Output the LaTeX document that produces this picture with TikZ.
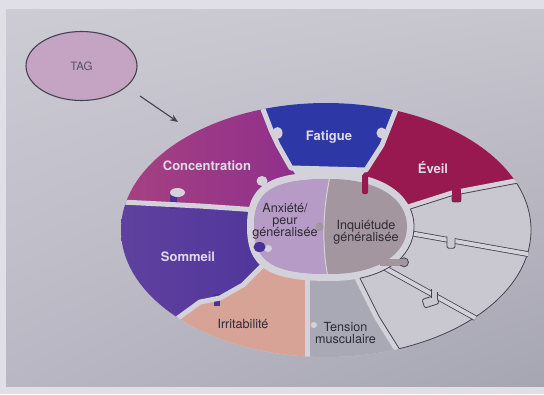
\documentclass[tikz,border=0pt]{standalone}
\usepackage{fontspec}
\setmainfont{TeX Gyre Heros}
\usetikzlibrary{arrows.meta,shapes.geometric,shadings}

\definecolor{margincol}{HTML}{DFDFE5}
\definecolor{pageUL}{HTML}{CDCCD5}
\definecolor{pageUR}{HTML}{C7C6CF}
\definecolor{pageLL}{HTML}{B8B7C3}
\definecolor{pageLR}{HTML}{A6A5B2}
\definecolor{gapcol}{HTML}{D3D2DA}
\definecolor{inkcol}{HTML}{46424E}
\definecolor{tagcol}{HTML}{C4A3C3}
\definecolor{tagtextcol}{HTML}{5A5562}
\definecolor{concL}{HTML}{A8437F}
\definecolor{concR}{HTML}{8C2C8E}
\definecolor{fatiguecol}{HTML}{2D38A6}
\definecolor{eveilcol}{HTML}{97194F}
\definecolor{sommL}{HTML}{61429F}
\definecolor{sommR}{HTML}{4A3199}
\definecolor{irritcol}{HTML}{D7A397}
\definecolor{tensioncol}{HTML}{A9A9B6}
\definecolor{anxietecol}{HTML}{B59BC5}
\definecolor{inquietcol}{HTML}{A3969F}
\definecolor{blankcol}{HTML}{C9C8D1}
\definecolor{lighttextcol}{HTML}{DED8E8}
\definecolor{darktextcol}{HTML}{2F2B35}

\begin{document}
\begin{tikzpicture}[x=1pt,y=-1pt,
  gapline/.style={draw=gapcol,line width=5pt,line join=round,line cap=round},
  rimline/.style={draw=inkcol,line width=0.8pt,line join=round},
  seamline/.style={draw=inkcol,line width=0.8pt,double=gapcol,double distance=4pt,line join=round},
  boldlabel/.style={font=\fontsize{13}{13}\selectfont\bfseries,text=lighttextcol,inner sep=0pt},
  darklabel/.style={font=\fontsize{12.6}{12}\selectfont,text=darktextcol,align=center,inner sep=0pt},
]
\useasboundingbox (0,0) rectangle (544,394);

% page and its shaded paper
\fill[margincol] (0,0) rectangle (544,394);
\shade[upper left=pageUL, upper right=pageUR, lower left=pageLL, lower right=pageLR]
  (6,9) rectangle (544,386);

% source ellipse and arrow
\node[ellipse, draw=inkcol, line width=1.1pt, fill=tagcol, minimum width=111pt,
      minimum height=69pt, inner sep=0pt, text=tagtextcol,
      font=\fontsize{11.5}{12}\selectfont] (tag) at (81.5,66) {TAG};
\coordinate (arrowtail) at (140,96);
\coordinate (arrowtip) at (178,122);
\draw[inkcol, line width=1.1pt, -{Stealth[length=8pt,width=6.5pt]}] (arrowtail) -- (arrowtip);

% outer ring of puzzle pieces
\fill[gapcol] (326,230) ellipse [x radius=205, y radius=127];
\begin{scope}
  \clip (326,230) ellipse [x radius=205, y radius=127];
  % Concentration
  \shade[left color=concL, right color=concR]
    (330,227) -- (291,168) -- (278,145) -- (271,130) -- (261,104) -- (250,70)
    -- (100,70) -- (100,201) -- (122,202) -- (200,206) -- (258,210) -- cycle;
  % Fatigue
  \fill[fatiguecol] (291,168) -- (278,145) -- (271,130) -- (261,104) -- (250,70)
    -- (410,70) -- (395,112) -- (382,145) -- (366,170) -- cycle;
  % Eveil
  \fill[eveilcol] (330,227) -- (366,170) -- (382,145) -- (395,112) -- (410,70)
    -- (580,70) -- (580,175) -- (515,181) -- (452,193) -- (405,208) -- cycle;
  % blank pieces
  \fill[blankcol] (330,227) -- (405,208) -- (452,193) -- (515,181) -- (580,175)
    -- (580,390) -- (420,390) -- (397,350) -- (377,318) -- (357,278) -- cycle;
  % Tension musculaire
  \fill[tensioncol] (330,227) -- (357,278) -- (377,318) -- (397,350) -- (420,390)
    -- (307,390) -- (307,276) -- cycle;
  % Irritabilite
  \fill[irritcol] (330,227) -- (307,276) -- (307,390) -- (130,390) -- (130,363)
    -- (160,335) -- (178,318) -- (200,302) -- (220,298) -- (243,285) -- (262,266) -- cycle;
  % Sommeil
  \shade[left color=sommL, right color=sommR]
    (330,227) -- (262,266) -- (243,285) -- (220,298) -- (200,302) -- (178,318)
    -- (160,335) -- (130,363) -- (100,363) -- (100,201) -- (122,202) -- (200,206)
    -- (258,210) -- cycle;

  % tabs reaching across the seams
  \fill[sommR] (170,195) rectangle (177,209);
  \fill[gapcol] (177.5,192.5) ellipse [x radius=7.5, y radius=4.5];
  \fill[sommR] (214,294) rectangle (220,306);
  \fill[irritcol] (302,322) rectangle (312,328);

  % gaps between coloured pieces
  \draw[gapline] (258,210) -- (200,206) -- (122,202) -- (100,201);
  \draw[gapline] (262,266) -- (243,285) -- (220,298) -- (200,302) -- (178,318)
    -- (160,335) -- (130,363);
  \draw[gapline] (307,276) -- (307,390);
  \draw[gapline] (250,70) -- (261,104) -- (271,130) -- (278,145) -- (291,168)
    -- (366,170) -- (382,145) -- (395,112) -- (410,70);
  \draw[gapline] (349,262) -- (357,278) -- (377,318) -- (397,350) -- (420,390);
  \draw[gapline] (395,211) -- (405,208) -- (452,193) -- (515,181) -- (580,175);
  \fill[gapcol] (277.5,133) ellipse [x radius=5, y radius=6];
  \fill[gapcol] (381.5,133) ellipse [x radius=5, y radius=5.5];
  \fill[gapcol] (262,181) ellipse [x radius=5.5, y radius=5];
  \fill[gapcol] (314,325) circle [radius=3];

  % outlines of the blank pieces beside coloured neighbours
  \draw[rimline] (351.3,260.8) -- (359.3,276.8) -- (379.3,316.8) -- (399.3,348.8) -- (422.3,388.8);
  \draw[rimline] (395.6,216.5) -- (405.6,210.5) -- (452.6,195.5) -- (515.6,183.5) -- (580.6,177.5);
\end{scope}

% outer rim of the blank pieces
\begin{scope}
  \clip (351.3,260.8) -- (359.3,276.8) -- (379.3,316.8) -- (399.3,348.8) -- (422.3,388.8)
    -- (580,388.8) -- (580,177.5) -- (515.6,183.5) -- (452.6,195.5) -- (405.6,210.5)
    -- (395.6,216.5) -- (330,227) -- cycle;
  \draw[rimline] (326,230) ellipse [x radius=205, y radius=127];
\end{scope}

% seams between the blank pieces
\draw[seamline] (395,230.4) -- (528.1,254.1);
\draw[seamline] (385,268) -- (475.3,318.1);

% tab of the upper blank piece
\fill[blankcol] (447.4,236.2) rectangle (454.6,247.9);
\draw[rimline, rounded corners=1.5] (447,236.6) -- (447,248.3) -- (455,248.3) -- (455,238.3);
% tab of the middle blank piece
\draw[rimline, fill=blankcol, rounded corners=2, rotate around={18:(430.5,301.5)}]
  (423,297) rectangle (438,306);
\fill[blankcol] (431.4,287.8) rectangle (436.6,299);
\draw[rimline] (431,289) -- (431,297.5);
\draw[rimline] (437,292.2) -- (437,297.5);
% tab of Eveil into the upper blank piece
\fill[eveilcol] (452,189) rectangle (461,202);
\draw[rimline, rounded corners=2] (452,195.6) -- (452,202) -- (461,202) -- (461,193.8);

% gap around the centre
\fill[gapcol] (414,226.5) .. controls (414,259.2) and (380.6,281) .. (330.5,281)
  .. controls (267.9,281) and (247,267.4) .. (247,226.5)
  .. controls (247,185.6) and (267.9,172) .. (330.5,172)
  .. controls (380.6,172) and (414,193.8) .. (414,226.5) -- cycle;
\begin{scope}
  \clip (351.3,260.8) -- (359.3,276.8) -- (379.3,316.8) -- (399.3,348.8) -- (422.3,388.8)
    -- (580,388.8) -- (580,177.5) -- (515.6,183.5) -- (452.6,195.5) -- (405.6,210.5)
    -- (395.6,216.5) -- (330,227) -- cycle;
  \draw[rimline] (414,226.5) .. controls (414,259.2) and (380.6,281) .. (330.5,281)
    .. controls (267.9,281) and (247,267.4) .. (247,226.5)
    .. controls (247,185.6) and (267.9,172) .. (330.5,172)
    .. controls (380.6,172) and (414,193.8) .. (414,226.5) -- cycle;
\end{scope}

% centre: two halves
\fill[inquietcol] (407,226.5) .. controls (407,255) and (376.4,274) .. (330.5,274)
  .. controls (273.1,274) and (254,262.1) .. (254,226.5)
  .. controls (254,190.9) and (273.1,179) .. (330.5,179)
  .. controls (376.4,179) and (407,198) .. (407,226.5) -- cycle;
\begin{scope}
  \clip (407,226.5) .. controls (407,255) and (376.4,274) .. (330.5,274)
    .. controls (273.1,274) and (254,262.1) .. (254,226.5)
    .. controls (254,190.9) and (273.1,179) .. (330.5,179)
    .. controls (376.4,179) and (407,198) .. (407,226.5) -- cycle;
  \fill[anxietecol] (331,172) .. controls (323,205) and (321,248) .. (329,282)
    -- (240,282) -- (240,172) -- cycle;
  \draw[gapcol, line width=1pt] (331,172) .. controls (323,205) and (321,248) .. (329,282);
  \fill[inquietcol] (319.5,227) ellipse [x radius=4, y radius=4.5];
  \fill[gapcol] (268,248.5) ellipse [x radius=4, y radius=3.5];
\end{scope}

% small tabs crossing the centre gap
\fill[sommR] (259.5,247) ellipse [x radius=6, y radius=5];
\fill[eveilcol, rounded corners=1.5] (362,174) rectangle (368,194);
\fill[inquietcol] (380,259) rectangle (401,265.5);
\draw[rimline, fill=inquietcol] (404,262.3) ellipse [x radius=4.5, y radius=4.5];
\fill[inquietcol] (398,259.3) rectangle (402,265.3);

% labels
\node[boldlabel] (concentration) at (207,166) {Concentration};
\node[boldlabel] (fatiguelbl) at (329,137) {Fatigue};
\node[boldlabel] (eveillbl) at (433,168) {Éveil};
\node[boldlabel] (sommeillbl) at (188,257) {Sommeil};
\node[darklabel] (irritlbl) at (243,324) {Irritabilité};
\node[darklabel] (tensionlbl) at (345.5,333) {Tension\\musculaire};
\node[darklabel] (anxietelbl) at (285,221) {Anxiété/\\peur\\généralisée};
\node[darklabel] (inquietlbl) at (366,232.5) {Inquiétude\\généralisée};
\end{tikzpicture}
\end{document}
